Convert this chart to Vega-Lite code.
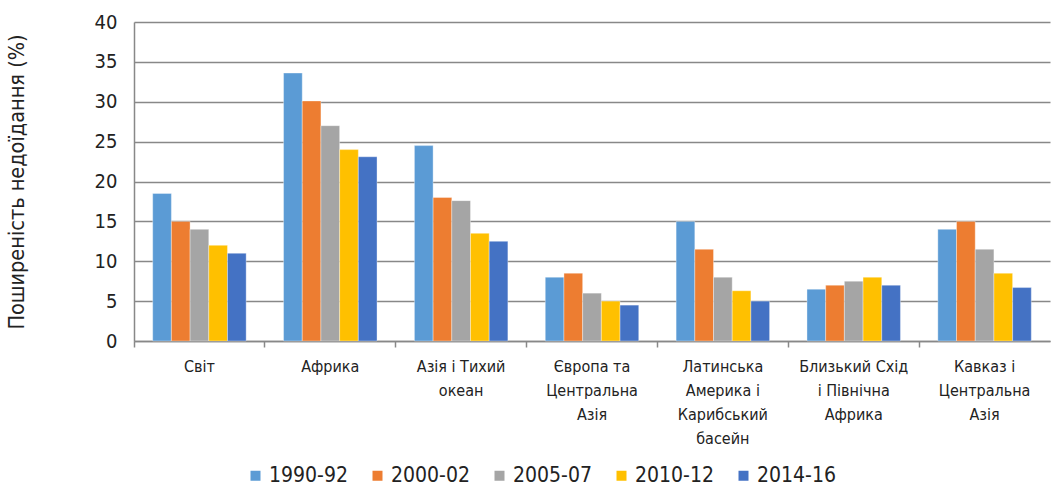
{
  "$schema": "https://vega.github.io/schema/vega-lite/v6.json",
  "autosize": "none",
  "width": 916,
  "height": 319,
  "padding": {"left": 134, "top": 22, "right": 5, "bottom": 147},
  "background": "white",
  "config": {
    "font": "Liberation Sans Narrow, DejaVu Sans Condensed, Liberation Sans",
    "view": {"stroke": null}
  },
  "data": {
    "values": [
      {"region": "Світ", "period": "1990-92", "value": 18.5},
      {"region": "Світ", "period": "2000-02", "value": 15},
      {"region": "Світ", "period": "2005-07", "value": 14},
      {"region": "Світ", "period": "2010-12", "value": 12},
      {"region": "Світ", "period": "2014-16", "value": 11},
      {"region": "Африка", "period": "1990-92", "value": 33.6},
      {"region": "Африка", "period": "2000-02", "value": 30.1},
      {"region": "Африка", "period": "2005-07", "value": 27},
      {"region": "Африка", "period": "2010-12", "value": 24},
      {"region": "Африка", "period": "2014-16", "value": 23.1},
      {"region": "Азія і Тихий океан", "period": "1990-92", "value": 24.5},
      {"region": "Азія і Тихий океан", "period": "2000-02", "value": 18},
      {"region": "Азія і Тихий океан", "period": "2005-07", "value": 17.6},
      {"region": "Азія і Тихий океан", "period": "2010-12", "value": 13.5},
      {"region": "Азія і Тихий океан", "period": "2014-16", "value": 12.5},
      {"region": "Європа та Центральна Азія", "period": "1990-92", "value": 8},
      {"region": "Європа та Центральна Азія", "period": "2000-02", "value": 8.5},
      {"region": "Європа та Центральна Азія", "period": "2005-07", "value": 6},
      {"region": "Європа та Центральна Азія", "period": "2010-12", "value": 5},
      {"region": "Європа та Центральна Азія", "period": "2014-16", "value": 4.5},
      {"region": "Латинська Америка і Карибський басейн", "period": "1990-92", "value": 15},
      {"region": "Латинська Америка і Карибський басейн", "period": "2000-02", "value": 11.5},
      {"region": "Латинська Америка і Карибський басейн", "period": "2005-07", "value": 8},
      {"region": "Латинська Америка і Карибський басейн", "period": "2010-12", "value": 6.3},
      {"region": "Латинська Америка і Карибський басейн", "period": "2014-16", "value": 5},
      {"region": "Близький Схід і Північна Африка", "period": "1990-92", "value": 6.5},
      {"region": "Близький Схід і Північна Африка", "period": "2000-02", "value": 7},
      {"region": "Близький Схід і Північна Африка", "period": "2005-07", "value": 7.5},
      {"region": "Близький Схід і Північна Африка", "period": "2010-12", "value": 8},
      {"region": "Близький Схід і Північна Африка", "period": "2014-16", "value": 7},
      {"region": "Кавказ і Центральна Азія", "period": "1990-92", "value": 14},
      {"region": "Кавказ і Центральна Азія", "period": "2000-02", "value": 15},
      {"region": "Кавказ і Центральна Азія", "period": "2005-07", "value": 11.5},
      {"region": "Кавказ і Центральна Азія", "period": "2010-12", "value": 8.5},
      {"region": "Кавказ і Центральна Азія", "period": "2014-16", "value": 6.7}
    ]
  },
  "mark": {"type": "bar", "strokeWidth": 1, "strokeOpacity": 0.35, "stroke": "white"},
  "encoding": {
    "x": {
      "field": "region",
      "type": "nominal",
      "sort": null,
      "scale": {"paddingInner": 0, "paddingOuter": 0},
      "axis": {
        "title": null,
        "labelAngle": 0,
        "bandPosition": 0,
        "labelFontSize": 16,
        "labelColor": "#222",
        "labelLineHeight": 24,
        "labelPadding": 11,
        "labelBaseline": "top",
        "tickSize": 6,
        "tickColor": "#888",
        "tickWidth": 1.5,
        "domainColor": "#888",
        "domainWidth": 1.5,
        "grid": false,
        "labelExpr": "datum.value == 'Азія і Тихий океан' ? ['Азія і Тихий', 'океан'] : datum.value == 'Європа та Центральна Азія' ? ['Європа та', 'Центральна', 'Азія'] : datum.value == 'Латинська Америка і Карибський басейн' ? ['Латинська', 'Америка і', 'Карибський', 'басейн'] : datum.value == 'Близький Схід і Північна Африка' ? ['Близький Схід', 'і Північна', 'Африка'] : datum.value == 'Кавказ і Центральна Азія' ? ['Кавказ і', 'Центральна', 'Азія'] : datum.value"
      }
    },
    "xOffset": {
      "field": "period",
      "type": "nominal",
      "scale": {"paddingInner": 0, "paddingOuter": 1.02}
    },
    "y": {
      "field": "value",
      "type": "quantitative",
      "scale": {"domain": [0, 40], "nice": false},
      "axis": {
        "title": "Поширеність недоїдання (%)",
        "titleFontSize": 21.5,
        "titleFontWeight": "normal",
        "titleColor": "#222",
        "titleX": -106,
        "values": [0, 5, 10, 15, 20, 25, 30, 35, 40],
        "labelFontSize": 20,
        "labelColor": "#222",
        "labelPadding": 17,
        "ticks": false,
        "domainColor": "#888",
        "domainWidth": 1.5,
        "gridColor": "#888",
        "gridWidth": 1.5
      }
    },
    "color": {
      "field": "period",
      "type": "nominal",
      "scale": {
        "domain": ["1990-92", "2000-02", "2005-07", "2010-12", "2014-16"],
        "range": ["#5B9BD5", "#ED7D31", "#A5A5A5", "#FFC000", "#4472C4"]
      },
      "legend": {
        "title": null,
        "orient": "none",
        "direction": "horizontal",
        "legendX": 111,
        "legendY": 443,
        "symbolType": "square",
        "symbolSize": 100,
        "symbolStrokeWidth": 0,
        "labelFontSize": 21,
        "labelColor": "#222",
        "labelOffset": 3,
        "columnPadding": 19
      }
    }
  }
}
